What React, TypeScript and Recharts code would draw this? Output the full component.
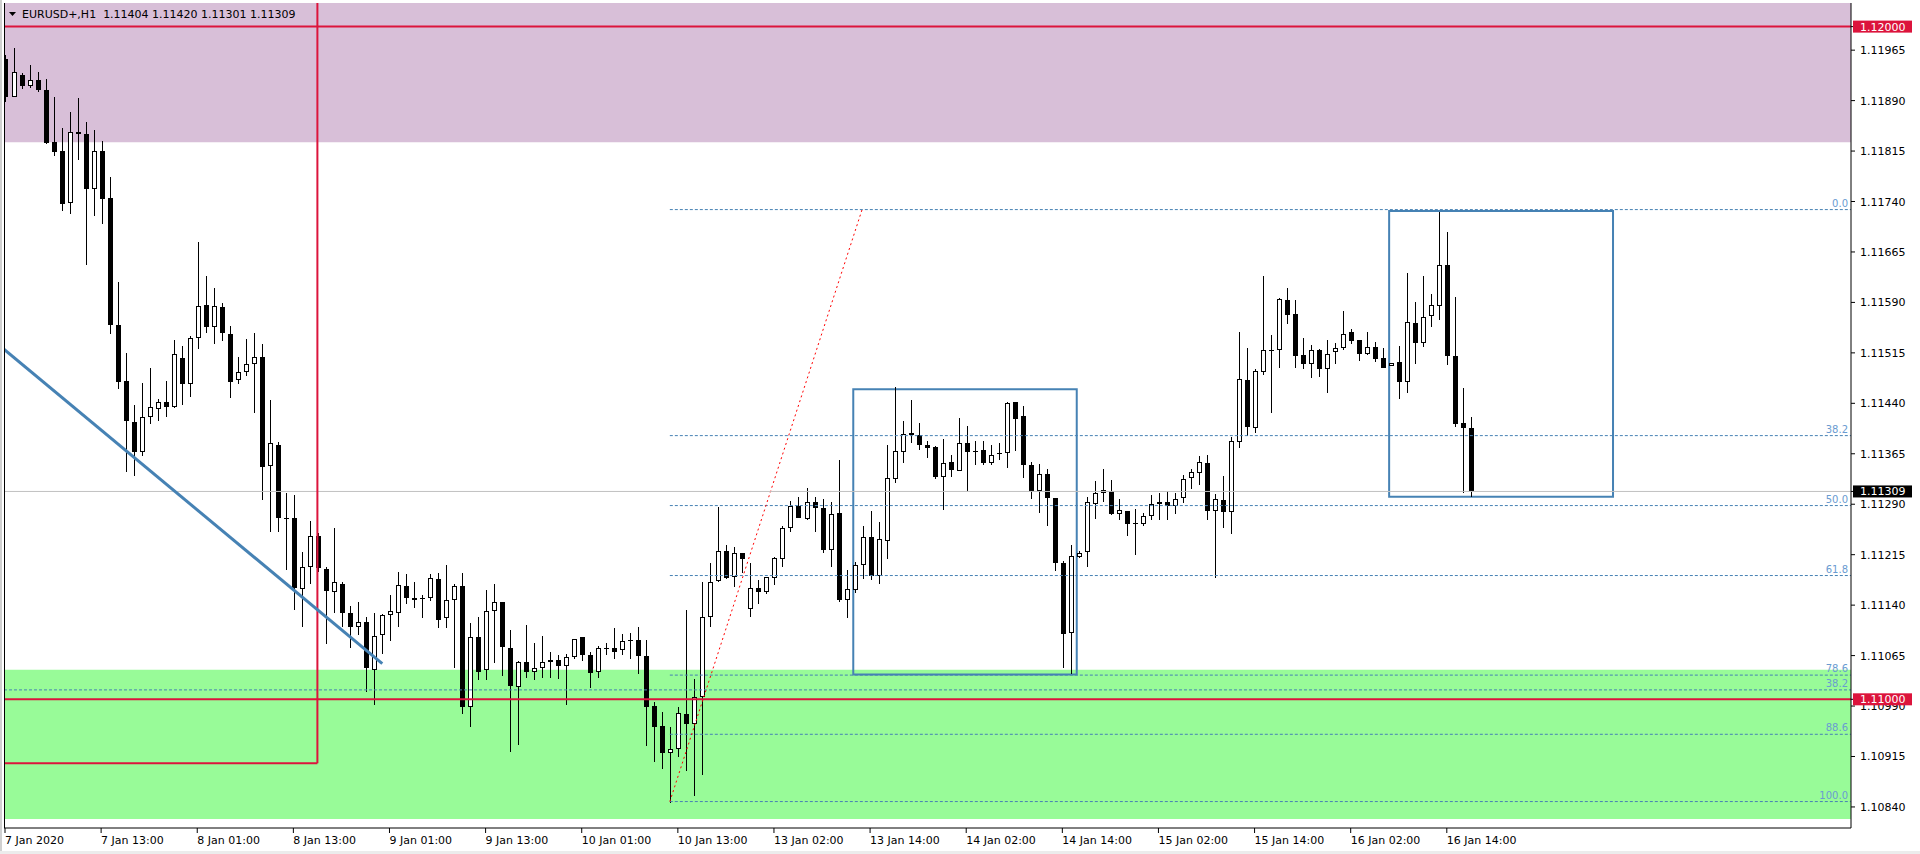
import React from 'react'
import {
  Bar,
  ComposedChart,
  ReferenceArea,
  ReferenceLine,
  XAxis,
  YAxis,
} from 'recharts'

// EURUSD+ H1 candles, bar index 0 = 7 Jan 2020 01:00
const opens = [
  1.11952, 1.11896, 1.11928, 1.11912, 1.1192, 1.11906, 1.11828, 1.11815, 1.11738, 1.11843,
  1.1184, 1.11759, 1.11815, 1.11745, 1.11556, 1.11473, 1.11412, 1.11367, 1.1142, 1.11431,
  1.11442, 1.11434, 1.11507, 1.11468, 1.11537, 1.11586, 1.11553, 1.11583, 1.11543, 1.11474,
  1.11487, 1.11498, 1.11509, 1.11347, 1.11378, 1.11269, 1.11269, 1.11164, 1.11196, 1.11243,
  1.11193, 1.11159, 1.11172, 1.11128, 1.11108, 1.11115, 1.11043, 1.11095, 1.11126, 1.11129,
  1.11168, 1.1115, 1.1115, 1.1115, 1.11179, 1.11121, 1.11147, 1.11168, 1.10989, 1.11092,
  1.11044, 1.11131, 1.11144, 1.11077, 1.11018, 1.11055, 1.11041, 1.11046, 1.11055, 1.11058,
  1.11049, 1.11063, 1.11092, 1.11066, 1.11041, 1.11076, 1.11076, 1.11073, 1.11088, 1.11088,
  1.11064, 1.1099, 1.1096, 1.1092, 1.10926, 1.10978, 1.10963, 1.11003, 1.11123, 1.11176,
  1.1122, 1.11182, 1.11217, 1.11134, 1.11165, 1.11159, 1.11181, 1.11208, 1.11254, 1.11288,
  1.11268, 1.11293, 1.11284, 1.11222, 1.11277, 1.11148, 1.11162, 1.11199, 1.11241, 1.11183,
  1.11235, 1.11327, 1.11367, 1.11396, 1.11393, 1.11378, 1.11375, 1.11331, 1.11353, 1.1134,
  1.11381, 1.11369, 1.1137, 1.11352, 1.11366, 1.11366, 1.11442, 1.11421, 1.11348, 1.11309,
  1.11335, 1.11299, 1.11202, 1.11098, 1.11211, 1.11219, 1.11291, 1.11306, 1.1131, 1.11275,
  1.1128, 1.11262, 1.1126, 1.11272, 1.11293, 1.11293, 1.11288, 1.11299, 1.11329, 1.11336,
  1.11351, 1.1128, 1.11296, 1.11278, 1.11383, 1.11475, 1.11404, 1.11486, 1.11519, 1.11519,
  1.11593, 1.11573, 1.11512, 1.11499, 1.11519, 1.11491, 1.11516, 1.11522, 1.11546, 1.11534,
  1.11513, 1.11524, 1.11508, 1.11495, 1.11501, 1.11472, 1.11559, 1.1153, 1.1157, 1.11585,
  1.11645, 1.1151, 1.11411, 1.11404,
]

const highs = [
  1.11958, 1.11968, 1.11931, 1.11943, 1.11932, 1.11922, 1.11895, 1.1185, 1.11873, 1.11894,
  1.11858, 1.11846, 1.1183, 1.11777, 1.1162, 1.11515, 1.11438, 1.1147, 1.11492, 1.11446,
  1.11473, 1.11534, 1.11525, 1.1154, 1.1168, 1.11629, 1.11611, 1.11589, 1.11555, 1.11509,
  1.11536, 1.11544, 1.11528, 1.11445, 1.11383, 1.11307, 1.11303, 1.11219, 1.11265, 1.11247,
  1.11197, 1.11254, 1.11174, 1.11138, 1.11144, 1.11123, 1.11128, 1.11127, 1.11155, 1.11189,
  1.11186, 1.11174, 1.11155, 1.11186, 1.11188, 1.112, 1.11172, 1.11188, 1.11113, 1.11122,
  1.11162, 1.11171, 1.11145, 1.11103, 1.11057, 1.11111, 1.11084, 1.11094, 1.1107, 1.11066,
  1.11068, 1.1109, 1.11092, 1.1107, 1.11079, 1.11084, 1.11106, 1.11097, 1.11098, 1.11107,
  1.11088, 1.10996, 1.10981, 1.10959, 1.10988, 1.11133, 1.1103, 1.11174, 1.11203, 1.11286,
  1.11229, 1.11226, 1.11217, 1.11202, 1.11177, 1.11182, 1.11212, 1.11258, 1.11295, 1.11301,
  1.11314, 1.11301, 1.11298, 1.11293, 1.11356, 1.11192, 1.11204, 1.11258, 1.1128, 1.11263,
  1.11378, 1.11464, 1.11413, 1.11445, 1.11411, 1.11384, 1.11377, 1.11387, 1.11363, 1.11418,
  1.11406, 1.11384, 1.11384, 1.11378, 1.11381, 1.11442, 1.11442, 1.11436, 1.11353, 1.1135,
  1.11343, 1.11299, 1.11205, 1.1123, 1.11221, 1.11301, 1.11324, 1.11343, 1.11326, 1.11298,
  1.1128, 1.11283, 1.11277, 1.11304, 1.11307, 1.11309, 1.11306, 1.11334, 1.11342, 1.11362,
  1.11363, 1.11305, 1.11332, 1.1139, 1.11546, 1.11522, 1.11491, 1.1163, 1.11542, 1.11596,
  1.11612, 1.11594, 1.11537, 1.11527, 1.11521, 1.11534, 1.1153, 1.11577, 1.11551, 1.11534,
  1.11546, 1.11531, 1.11522, 1.115, 1.11525, 1.11634, 1.11591, 1.11629, 1.11603, 1.11724,
  1.11695, 1.11598, 1.11463, 1.1142,
]

const lows = [
  1.11888, 1.11895, 1.11908, 1.11909, 1.11903, 1.11825, 1.11807, 1.11726, 1.11722, 1.11801,
  1.11646, 1.11718, 1.11706, 1.11543, 1.11462, 1.11338, 1.11332, 1.11362, 1.1141, 1.11413,
  1.11419, 1.11433, 1.11438, 1.1145, 1.11521, 1.11545, 1.11528, 1.11533, 1.11448, 1.11469,
  1.11481, 1.11426, 1.11297, 1.11249, 1.11249, 1.11192, 1.11133, 1.11107, 1.11171, 1.11189,
  1.11082, 1.11128, 1.11108, 1.11076, 1.11096, 1.11011, 1.10991, 1.11068, 1.11087, 1.11107,
  1.11142, 1.11136, 1.11121, 1.11146, 1.11106, 1.11106, 1.11047, 1.10978, 1.10959, 1.11029,
  1.11029, 1.11054, 1.11034, 1.10922, 1.10932, 1.11032, 1.11029, 1.11032, 1.11032, 1.1103,
  1.10992, 1.1106, 1.11057, 1.11017, 1.11032, 1.11066, 1.1106, 1.11066, 1.1106, 1.11038,
  1.10931, 1.10907, 1.10897, 1.10846, 1.10914, 1.10894, 1.10857, 1.10888, 1.11107, 1.11175,
  1.11179, 1.11167, 1.11188, 1.11123, 1.11141, 1.11156, 1.1117, 1.11196, 1.11248, 1.11269,
  1.11266, 1.11248, 1.11217, 1.11196, 1.11144, 1.11121, 1.11158, 1.11179, 1.11178, 1.11171,
  1.11208, 1.11321, 1.11352, 1.11381, 1.11371, 1.11358, 1.11328, 1.11282, 1.11331, 1.1134,
  1.11309, 1.11349, 1.11349, 1.11349, 1.11356, 1.11344, 1.11369, 1.11329, 1.11298, 1.11277,
  1.11258, 1.11191, 1.11046, 1.11037, 1.1121, 1.11197, 1.11268, 1.11293, 1.11274, 1.11266,
  1.11243, 1.11214, 1.11257, 1.11266, 1.11267, 1.11266, 1.11276, 1.11292, 1.11313, 1.11318,
  1.11266, 1.1118, 1.11254, 1.11246, 1.11374, 1.11391, 1.11396, 1.11482, 1.11426, 1.11493,
  1.11558, 1.11493, 1.11491, 1.11477, 1.11479, 1.11455, 1.11498, 1.1152, 1.11528, 1.11503,
  1.11512, 1.11502, 1.11492, 1.11495, 1.11447, 1.11456, 1.11499, 1.11523, 1.11554, 1.11564,
  1.11497, 1.11405, 1.11306, 1.11301,
]

const closes = [
  1.11895, 1.11932, 1.11911, 1.1192, 1.11906, 1.11827, 1.11813, 1.11737, 1.11843, 1.11841,
  1.11759, 1.11815, 1.11744, 1.11557, 1.11472, 1.11413, 1.11367, 1.1142, 1.11434, 1.11442,
  1.11434, 1.11513, 1.11468, 1.11537, 1.11584, 1.11554, 1.11584, 1.11544, 1.11472, 1.11486,
  1.11498, 1.11509, 1.11346, 1.11381, 1.11269, 1.11268, 1.11165, 1.11196, 1.11243, 1.11195,
  1.11161, 1.11174, 1.11128, 1.11107, 1.11115, 1.11046, 1.11094, 1.11125, 1.11131, 1.1117,
  1.1115, 1.11148, 1.11151, 1.1118, 1.11118, 1.11147, 1.11168, 1.10989, 1.11092, 1.11041,
  1.11131, 1.11144, 1.11078, 1.1102, 1.11055, 1.11041, 1.11046, 1.11055, 1.11058, 1.11049,
  1.11063, 1.11089, 1.11066, 1.11039, 1.11076, 1.11076, 1.11071, 1.11086, 1.11088, 1.11065,
  1.10989, 1.10959, 1.1092, 1.10926, 1.10979, 1.10963, 1.11003, 1.11123, 1.11175, 1.1122,
  1.11181, 1.11217, 1.11208, 1.11165, 1.11159, 1.11182, 1.1121, 1.11254, 1.11288, 1.11269,
  1.11294, 1.11285, 1.11222, 1.11275, 1.11147, 1.11164, 1.11199, 1.11242, 1.11183, 1.11238,
  1.11329, 1.11369, 1.11394, 1.11393, 1.11378, 1.11373, 1.11331, 1.11352, 1.11341, 1.11381,
  1.11367, 1.11367, 1.11352, 1.11363, 1.11364, 1.1144, 1.11417, 1.11349, 1.1131, 1.11335,
  1.113, 1.11202, 1.11097, 1.11213, 1.11217, 1.11294, 1.11306, 1.11311, 1.11276, 1.11281,
  1.11261, 1.11262, 1.11272, 1.11291, 1.11291, 1.11288, 1.11298, 1.11328, 1.11338, 1.11353,
  1.1128, 1.11298, 1.11279, 1.11384, 1.11476, 1.11405, 1.11488, 1.11519, 1.11518, 1.11595,
  1.11572, 1.11511, 1.11499, 1.1152, 1.11491, 1.11514, 1.11522, 1.11543, 1.11533, 1.11514,
  1.11524, 1.11506, 1.11493, 1.115, 1.11472, 1.11561, 1.1153, 1.11569, 1.11586, 1.11645,
  1.11511, 1.1141, 1.11404, 1.11309,
]

const timeTicks = [0, 12, 24, 36, 48, 60, 72, 84, 96, 108, 120, 132, 144, 156, 168, 180]
const timeLabels = [
  '7 Jan 2020', '7 Jan 13:00', '8 Jan 01:00', '8 Jan 13:00', '9 Jan 01:00', '9 Jan 13:00',
  '10 Jan 01:00', '10 Jan 13:00', '13 Jan 02:00', '13 Jan 14:00', '14 Jan 02:00',
  '14 Jan 14:00', '15 Jan 02:00', '15 Jan 14:00', '16 Jan 02:00', '16 Jan 14:00',
]

const priceTicks = [
  1.11965, 1.1189, 1.11815, 1.1174, 1.11665, 1.1159, 1.11515, 1.1144, 1.11365, 1.1129,
  1.11215, 1.1114, 1.11065, 1.1099, 1.10915, 1.1084,
]

// levels from the chart objects
const redLevels = [1.12, 1.11]
const currentPrice = 1.11309
const pinkZone = [1.11828, 1.1206]
const greenZone = [1.10822, 1.11044]
const redBoxBar = 39
const redBoxBottom = 1.10905
const trendStart = { x: -0.1, y: 1.1152 }
const trendEnd = { x: 47.1, y: 1.11053 }
const fibLabels = ['0.0', '38.2', '50.0', '61.8', '78.6', '88.6', '100.0']
const fibPrices = [1.11728, 1.11392, 1.11288, 1.11184, 1.11036, 1.10948, 1.10848]
const fibFromBar = 83
const fibToBar = 107
const extraFibLabel = '38.2'
const extraFibPrice = 1.11014
const blueBoxes = [
  { x1: 105.9, x2: 133.8, y1: 1.11037, y2: 1.11461 },
  { x1: 172.8, x2: 200.75, y1: 1.11301, y2: 1.11726 },
]

const xDomain = [-0.125, 230.46]
const yDomain = [1.108087, 1.120351]

const bars = opens.map((open, i) => ({
  i,
  open,
  high: highs[i],
  low: lows[i],
  close: closes[i],
  range: [lows[i], highs[i]],
}))

const FONT = 'DejaVu Sans, Verdana, sans-serif'
const STEEL = '#4682B4'
const CRIMSON = '#DC143C'

const tagColors: Record<string, string> = {
  '1.12000': CRIMSON,
  '1.11000': CRIMSON,
  '1.11309': '#000000',
}

const Candle = (props: any) => {
  const { x, y, width, height, payload } = props
  if (x == null || y == null) return null
  const { open, high, low, close } = payload
  const cx = Math.round(x + width / 2)
  const span = high - low
  const py = (v: number) => (span > 0 ? y + ((high - v) / span) * height : y)
  const top = Math.round(py(Math.max(open, close)))
  const bot = Math.round(py(Math.min(open, close)))
  const wTop = Math.round(y)
  const wBot = Math.round(y + height)
  const up = close > open
  return (
    <g>
      <rect x={cx} y={wTop} width={1} height={Math.max(1, wBot - wTop)} fill="#000" />
      {up && bot - top >= 2 ? (
        <rect x={cx - 1.5} y={top + 0.5} width={4} height={bot - top - 1} fill="#fff" stroke="#000" strokeWidth={1} />
      ) : (
        <rect x={cx - 2} y={top} width={5} height={Math.max(1, bot - top)} fill="#000" />
      )}
    </g>
  )
}

const PriceTick = ({ x, y, payload }: any) => {
  const label = Number(payload.value).toFixed(5)
  const tag = tagColors[label]
  return (
    <g>
      {tag && <rect x={x - 7} y={y - 6} width={59} height={12} fill={tag} />}
      <text x={x} y={y} dy={4} fill={tag ? '#fff' : '#000'} fontSize={11} fontFamily={FONT}>
        {label}
      </text>
    </g>
  )
}

const TimeTick = ({ x, y, payload }: any) => {
  const idx = timeTicks.indexOf(payload.value)
  return (
    <text x={x} y={y} dy={9} fill="#000" fontSize={11} fontFamily={FONT} textAnchor="start">
      {timeLabels[idx]}
    </text>
  )
}

const fibLabel = (text: string) => (p: any) => {
  const vb = p.viewBox
  if (!vb) return null
  return (
    <text x={vb.x + vb.width - 3} y={vb.y - 3} textAnchor="end" fill="#6A9BD1" fontSize={10} fontFamily={FONT}>
      {text}
    </text>
  )
}

const last = bars[bars.length - 1]

export default function App() {
  return (
    <div style={{ position: 'absolute', left: 0, top: 0, width: 1920, height: 854, background: '#fff', overflow: 'hidden' }}>
      <ComposedChart width={1920} height={854} data={bars} margin={{ top: 3, right: 0, bottom: 0, left: 4 }}>
        <XAxis
          type="number"
          dataKey="i"
          domain={xDomain}
          allowDataOverflow
          ticks={timeTicks}
          interval={0}
          height={26}
          tickSize={5}
          tickMargin={2}
          axisLine={{ stroke: '#000' }}
          tickLine={{ stroke: '#000' }}
          tick={<TimeTick />}
        />
        <YAxis
          orientation="right"
          type="number"
          domain={yDomain}
          allowDataOverflow
          ticks={[...priceTicks, 1.12, currentPrice, 1.11]}
          interval={0}
          width={69}
          tickSize={4}
          tickMargin={5}
          axisLine={{ stroke: '#000' }}
          tickLine={{ stroke: '#000' }}
          tick={<PriceTick />}
        />

        <ReferenceArea y1={pinkZone[0]} y2={pinkZone[1]} ifOverflow="hidden" fill="#D8BFD8" fillOpacity={1} stroke="none" />
        <ReferenceArea y1={greenZone[0]} y2={greenZone[1]} ifOverflow="hidden" fill="#98FB98" fillOpacity={1} stroke="none" />

        <Bar dataKey="range" barSize={5} shape={(p: any) => <Candle {...p} />} isAnimationActive={false} />

        {fibPrices.map((p, k) => (
          <ReferenceLine
            key={'fib' + k}
            segment={[{ x: fibFromBar, y: p }, { x: xDomain[1], y: p }]}
            ifOverflow="hidden"
            stroke={STEEL}
            strokeDasharray="3 2"
            label={fibLabel(fibLabels[k])}
          />
        ))}
        <ReferenceLine
          segment={[{ x: xDomain[0], y: extraFibPrice }, { x: xDomain[1], y: extraFibPrice }]}
          ifOverflow="hidden"
          stroke={STEEL}
          strokeDasharray="3 2"
          label={fibLabel(extraFibLabel)}
        />
        <ReferenceLine
          segment={[{ x: fibFromBar, y: fibPrices[6] }, { x: fibToBar, y: fibPrices[0] }]}
          ifOverflow="hidden"
          stroke="#FF0000"
          strokeDasharray="2 3"
        />

        <ReferenceLine y={currentPrice} stroke="#C0C0C0" />
        {redLevels.map((p) => (
          <ReferenceLine key={'red' + p} y={p} stroke={CRIMSON} strokeWidth={2} />
        ))}

        <ReferenceLine
          segment={[{ x: redBoxBar, y: redBoxBottom }, { x: redBoxBar, y: yDomain[1] }]}
          ifOverflow="hidden"
          stroke={CRIMSON}
          strokeWidth={2}
        />
        <ReferenceLine
          segment={[{ x: xDomain[0], y: redBoxBottom }, { x: redBoxBar, y: redBoxBottom }]}
          ifOverflow="hidden"
          stroke={CRIMSON}
          strokeWidth={2}
        />

        <ReferenceLine segment={[trendStart, trendEnd]} ifOverflow="hidden" stroke={STEEL} strokeWidth={3} />

        {blueBoxes.map((b, k) => (
          <ReferenceArea
            key={'box' + k}
            x1={b.x1}
            x2={b.x2}
            y1={b.y1}
            y2={b.y2}
            fill="none"
            fillOpacity={0}
            stroke={STEEL}
            strokeWidth={2}
            strokeOpacity={1}
          />
        ))}
      </ComposedChart>

      <div style={{ position: 'absolute', left: 4, top: 3, width: 1, height: 825, background: '#000' }} />
      <div style={{ position: 'absolute', left: 0, top: 0, width: 2, height: 854, background: '#d0d0d0' }} />
      <div style={{ position: 'absolute', left: 0, top: 851, width: 1920, height: 3, background: '#ececec' }} />

      <svg style={{ position: 'absolute', left: 0, top: 0 }} width={320} height={24}>
        <polygon points="9,12 16,12 12.5,16" fill="#000" />
        <text x={22} y={18} fontSize={11} fontFamily={FONT} fill="#000" style={{ whiteSpace: 'pre' }}>
          {`EURUSD+,H1  ${last.open.toFixed(5)} ${last.high.toFixed(5)} ${last.low.toFixed(5)} ${last.close.toFixed(5)}`}
        </text>
      </svg>
    </div>
  )
}
